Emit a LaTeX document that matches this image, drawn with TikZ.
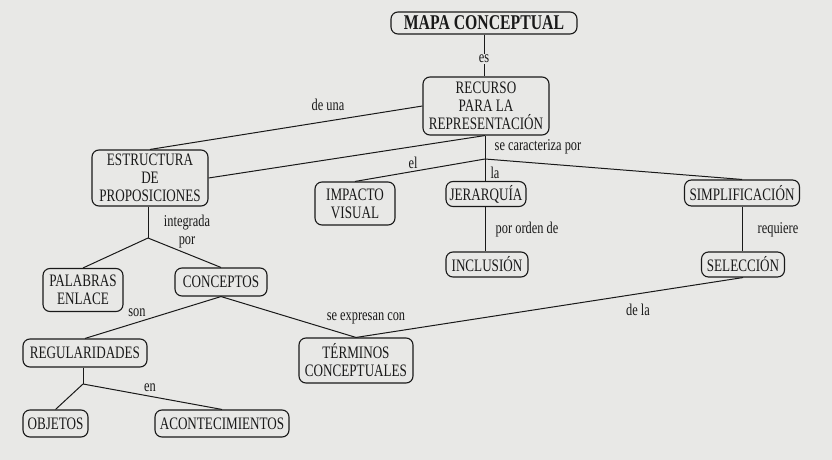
\documentclass[tikz,border=0pt]{standalone}
\usepackage{fontspec}
\setmainfont[FakeStretch=0.75]{Liberation Serif}
\usetikzlibrary{calc}
\definecolor{paper}{RGB}{232,232,230}
\definecolor{ink}{RGB}{25,25,25}
\tikzset{
  box/.style={draw=ink, rounded corners=7pt, line width=1.1pt, align=center, inner sep=0pt,
    text=ink, font=\fontsize{17.5}{18}\selectfont},
  lbl/.style={text=ink, inner sep=1pt, align=center, font=\fontsize{16.5}{18}\selectfont},
  link/.style={draw=ink, line width=1pt},
}
\begin{document}
\begin{tikzpicture}[x=1pt,y=-1pt]
\useasboundingbox (0,0) rectangle (832,460);
\fill[paper] (0,0) rectangle (832,460);
% nodes
\node[box, minimum width=186pt, minimum height=22pt, font=\fontsize{21}{22}\selectfont\bfseries] (mapa) at (484,23) {MAPA CONCEPTUAL};
\node[box, minimum width=126pt, minimum height=58pt] (recurso) at (486,106) {RECURSO\\PARA LA\\REPRESENTACIÓN};
\node[box, minimum width=116pt, minimum height=56pt] (estructura) at (150,178) {ESTRUCTURA\\DE\\PROPOSICIONES};
\node[box, minimum width=80pt, minimum height=43pt] (impacto) at (355,203.5) {IMPACTO\\VISUAL};
\node[box, minimum width=80pt, minimum height=25pt] (jerarquia) at (486,194) {JERARQUÍA};
\node[box, minimum width=115pt, minimum height=26pt] (simplificacion) at (742,193) {SIMPLIFICACIÓN};
\node[box, minimum width=82pt, minimum height=25pt] (inclusion) at (487,264.5) {INCLUSIÓN};
\node[box, minimum width=83pt, minimum height=25pt] (seleccion) at (743,264.5) {SELECCIÓN};
\node[box, minimum width=80pt, minimum height=43pt] (palabras) at (83,290) {PALABRAS\\ENLACE};
\node[box, minimum width=92pt, minimum height=28pt] (conceptos) at (221,282) {CONCEPTOS};
\node[box, minimum width=124pt, minimum height=28pt] (regularidades) at (85,353) {REGULARIDADES};
\node[box, minimum width=114pt, minimum height=45pt] (terminos) at (356,360.5) {TÉRMINOS\\CONCEPTUALES};
\node[box, minimum width=65pt, minimum height=27pt] (objetos) at (55.5,423.5) {OBJETOS};
\node[box, minimum width=134pt, minimum height=27pt] (acontecimientos) at (222,423.5) {ACONTECIMIENTOS};
% junctions
\coordinate (j1) at (485,159);
\coordinate (j2) at (148,238);
\coordinate (j3) at (83,384);
% connectors
\draw[link] (mapa.south) -- (mapa.south |- recurso.north);
\draw[link] (recurso.west) -- (estructura.north);
\draw[link] (recurso.south -| j1) -- (estructura.east);
\draw[link] (recurso.south -| j1) -- (j1);
\draw[link] (j1) -- (impacto.north);
\draw[link] (j1) -- (j1 |- jerarquia.north);
\draw[link] (j1) -- (simplificacion.north);
\draw[link] (jerarquia.south -| j1) -- (j1 |- inclusion.north);
\draw[link] (simplificacion.south) -- (simplificacion.south |- seleccion.north);
\draw[link] (seleccion.south) -- (terminos.north);
\draw[link] (estructura.south -| j2) -- (j2);
\draw[link] (j2) -- (palabras.north);
\draw[link] (j2) -- (conceptos.north);
\draw[link] (conceptos.south) -- (regularidades.north);
\draw[link] (conceptos.south) -- (terminos.north);
\draw[link] (regularidades.south -| j3) -- (j3);
\draw[link] (j3) -- (objetos.north);
\draw[link] (j3) -- (acontecimientos.north);
% labels
\node[lbl, fill=paper] (les) at (484,59) {es};
\node[lbl] (ldeuna) at (328,105) {de una};
\node[lbl] (lcar) at (538,147) {se caracteriza por};
\node[lbl] (lel) at (413,163) {el};
\node[lbl] (lla) at (495,173) {la};
\node[lbl] (lint) at (187,232) {integrada\\por};
\node[lbl] (lorden) at (527,230) {por orden de};
\node[lbl] (lreq) at (778,230) {requiere};
\node[lbl] (lson) at (137,313) {son};
\node[lbl] (lexp) at (366,318) {se expresan con};
\node[lbl] (ldela) at (638,310) {de la};
\node[lbl] (len) at (150,388) {en};
\end{tikzpicture}
\end{document}
